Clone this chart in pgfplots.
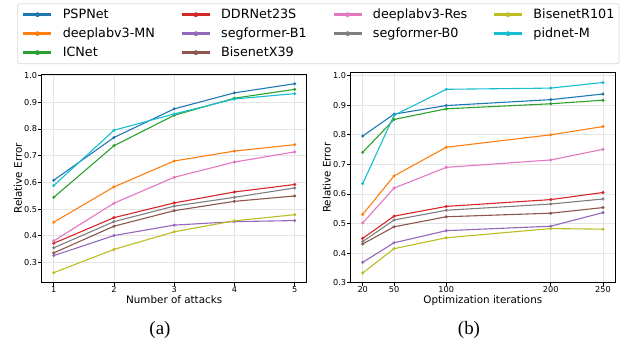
\documentclass[border=0pt]{standalone}
\usepackage{fontspec}
\setmainfont{DejaVu Sans}
\newfontfamily\capfont{Liberation Serif}
\usepackage{pgfplots}
\usepackage{pgfplotstable}
\pgfplotsset{compat=1.18}

\definecolor{cPSP}{HTML}{1F77B4}
\definecolor{cDMN}{HTML}{FF7F0E}
\definecolor{cICN}{HTML}{2CA02C}
\definecolor{cDDR}{HTML}{D62728}
\definecolor{cSB1}{HTML}{9467BD}
\definecolor{cBX}{HTML}{8C564B}
\definecolor{cDRes}{HTML}{E377C2}
\definecolor{cSB0}{HTML}{7F7F7F}
\definecolor{cBR}{HTML}{BCBD22}
\definecolor{cPID}{HTML}{17BECF}

\pgfplotstableread{
x   PSP   DMN   ICN   DDR   SB1   BX    DRes  SB0   BR    PID
1   0.608 0.451 0.544 0.372 0.326 0.336 0.381 0.355 0.262 0.588
2   0.768 0.583 0.737 0.468 0.401 0.436 0.522 0.453 0.349 0.795
3   0.875 0.680 0.851 0.523 0.440 0.494 0.619 0.511 0.415 0.856
4   0.935 0.717 0.915 0.564 0.453 0.529 0.676 0.544 0.456 0.912
5   0.969 0.741 0.948 0.592 0.457 0.549 0.714 0.579 0.479 0.932
}\tabA

\pgfplotstableread{
x   PSP   DMN   ICN   DDR   SB1   BX    DRes  SB0   BR    PID
20  0.796 0.531 0.741 0.450 0.369 0.431 0.502 0.439 0.333 0.635
50  0.870 0.661 0.852 0.525 0.435 0.489 0.620 0.512 0.415 0.866
100 0.899 0.758 0.888 0.558 0.476 0.523 0.690 0.545 0.452 0.954
200 0.919 0.800 0.905 0.581 0.491 0.535 0.715 0.566 0.483 0.958
250 0.938 0.828 0.917 0.605 0.537 0.554 0.751 0.583 0.481 0.977
}\tabB

\pgfplotsset{
  ser/.style={color=#1, line width=1.1bp, mark=*, mark size=1.3bp, mark options={solid, line width=0.5bp}},
  common/.style={
    scale only axis, anchor=south west,
    axis line style={line width=1bp, black},
    grid=major, grid style={line width=0.7bp, color=black!10},
    tick align=outside, tick pos=left,
    major tick length=3.3bp,
    every tick/.style={black, line width=0.8bp},
    ticklabel style={font=\fontsize{8.2}{9}\selectfont},
    xticklabel style={inner sep=0pt, anchor=north, yshift=-0.7bp},
    yticklabel style={inner sep=0pt, anchor=east, xshift=-1.1bp},
    /pgf/number format/assume math mode=true,
    label style={font=\fontsize{10.4}{12}\selectfont},
    ytick={0.3,0.4,0.5,0.6,0.7,0.8,0.9,1.0},
    yticklabel style={/pgf/number format/fixed, /pgf/number format/precision=1, /pgf/number format/fixed zerofill},
    ylabel={Relative Error},
  },
}

\begin{document}
\begin{tikzpicture}
\useasboundingbox (0,0) rectangle (627bp,345bp);
\begin{axis}[common,
  at={(41.7bp,62.3bp)}, width=265bp, height=208.7bp,
  xmin=0.8, xmax=5.2, ymin=0.2245, ymax=1.0055,
  xtick={1,2,3,4,5},
  xlabel={Number of attacks},
  xlabel style={at={(axis description cs:0.5,-0.102)}, anchor=base},
  ylabel style={at={(axis description cs:-0.0894,0.5)}, anchor=center},
  legend columns=4,
  legend cell align=left,
  legend image code/.code={\draw[mark repeat=2,mark phase=2,line width=2.6bp,mark size=2.1bp] plot coordinates {(0bp,0bp) (14bp,0bp) (28bp,0bp)};},
  legend style={at={(axis description cs:-0.0921,1.3388)}, anchor=north west,
    draw=black!15, line width=0.8bp, rounded corners=2bp,
    font=\fontsize{12.8}{15}\selectfont,
    inner xsep=4.5bp, inner ysep=5bp, row sep=7bp,
    nodes={inner sep=0pt, text height=9.5bp, text depth=2.5bp},
    /tikz/every odd column/.append style={column sep=10bp},
    /tikz/every even column/.append style={column sep=25.6bp}},
]
\addplot[ser=cPSP, forget plot] table[x=x,y=PSP] {\tabA};
\addplot[ser=cDMN, forget plot] table[x=x,y=DMN] {\tabA};
\addplot[ser=cICN, forget plot] table[x=x,y=ICN] {\tabA};
\addplot[ser=cDDR, forget plot] table[x=x,y=DDR] {\tabA};
\addplot[ser=cSB1, forget plot] table[x=x,y=SB1] {\tabA};
\addplot[ser=cBX, forget plot] table[x=x,y=BX] {\tabA};
\addplot[ser=cDRes, forget plot] table[x=x,y=DRes] {\tabA};
\addplot[ser=cSB0, forget plot] table[x=x,y=SB0] {\tabA};
\addplot[ser=cBR, forget plot] table[x=x,y=BR] {\tabA};
\addplot[ser=cPID, forget plot] table[x=x,y=PID] {\tabA};
\addlegendimage{ser=cPSP}\addlegendentry{PSPNet}
\addlegendimage{ser=cDDR}\addlegendentry{DDRNet23S}
\addlegendimage{ser=cDRes}\addlegendentry{deeplabv3-Res}
\addlegendimage{ser=cBR}\addlegendentry{BisenetR101}
\addlegendimage{ser=cDMN}\addlegendentry{deeplabv3-MN}
\addlegendimage{ser=cSB1}\addlegendentry{segformer-B1}
\addlegendimage{ser=cSB0}\addlegendentry{segformer-B0}
\addlegendimage{ser=cPID}\addlegendentry{pidnet-M}
\addlegendimage{ser=cICN}\addlegendentry{ICNet}
\addlegendimage{ser=cBX}\addlegendentry{BisenetX39}
\end{axis}
\begin{axis}[common,
  at={(350.7bp,62.3bp)}, width=264.3bp, height=210bp,
  xmin=8.5, xmax=261.5, ymin=0.3, ymax=1.0101,
  xtick={20,50,100,200,250},
  xlabel={Optimization iterations},
  xlabel style={at={(axis description cs:0.5,-0.1014)}, anchor=base},
  ylabel style={at={(axis description cs:-0.0908,0.5)}, anchor=center},
]
\addplot[ser=cPSP] table[x=x,y=PSP] {\tabB};
\addplot[ser=cDMN] table[x=x,y=DMN] {\tabB};
\addplot[ser=cICN] table[x=x,y=ICN] {\tabB};
\addplot[ser=cDDR] table[x=x,y=DDR] {\tabB};
\addplot[ser=cSB1] table[x=x,y=SB1] {\tabB};
\addplot[ser=cBX] table[x=x,y=BX] {\tabB};
\addplot[ser=cDRes] table[x=x,y=DRes] {\tabB};
\addplot[ser=cSB0] table[x=x,y=SB0] {\tabB};
\addplot[ser=cBR] table[x=x,y=BR] {\tabB};
\addplot[ser=cPID] table[x=x,y=PID] {\tabB};
\end{axis}
\node[font=\capfont\fontsize{19}{22}\selectfont, anchor=center] at (160bp,15bp) {(a)};
\node[font=\capfont\fontsize{19}{22}\selectfont, anchor=center] at (469bp,15bp) {(b)};
\end{tikzpicture}
\end{document}
